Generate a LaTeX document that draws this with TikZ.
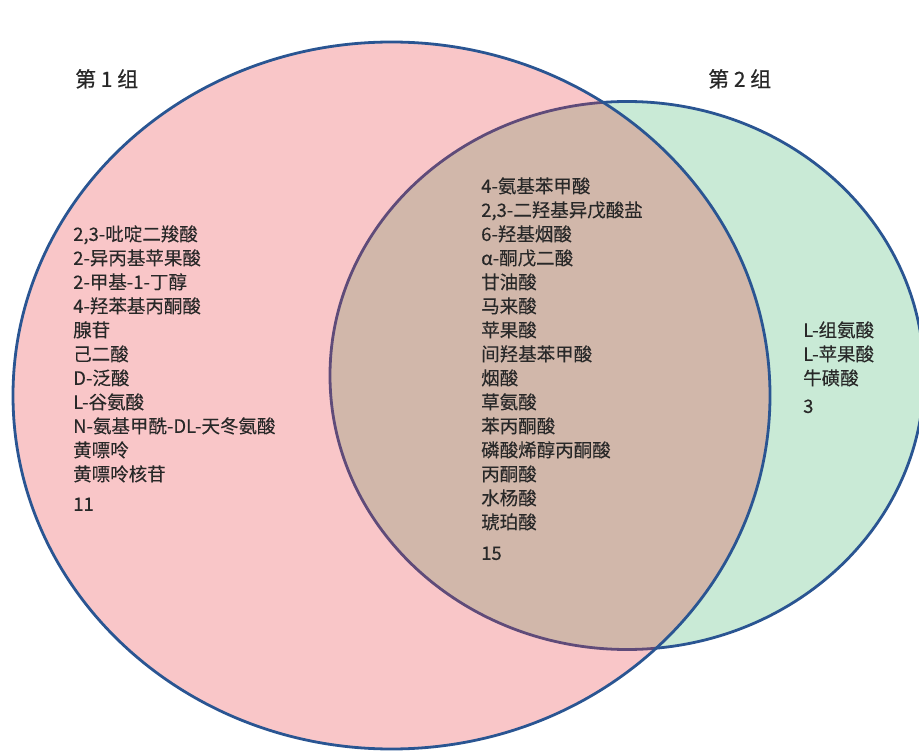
\documentclass[tikz,border=0pt]{standalone}
\usepackage{fontspec}
\setmainfont{Noto Sans CJK SC}
\newfontfamily\itemfont[FakeBold=0.15]{Noto Sans CJK SC}
\newfontfamily\titlefont[FakeBold=0.5]{Noto Sans CJK SC}
\definecolor{grpblue}{RGB}{42,85,146}
\definecolor{grpgreen}{RGB}{201,234,214}
\definecolor{grppink}{RGB}{233,51,58}
\definecolor{txt}{RGB}{40,40,40}
\tikzset{
  setA/.style={draw=grpblue,line width=2.8pt,fill=grppink,fill opacity=0.28},
  setB/.style={draw=grpblue,line width=2.8pt,fill=grpgreen},
  item/.style={anchor=west,inner sep=0pt,text=txt,font=\itemfont\fontsize{18.5}{20}\selectfont,text height=0.78em,text depth=0.2em},
  title/.style={anchor=west,inner sep=0pt,text=txt,font=\titlefont\fontsize{21}{24}\selectfont,text height=0.78em,text depth=0.2em},
}
\begin{document}
\begin{tikzpicture}[x=1pt,y=-1pt]
\useasboundingbox (0,0) rectangle (919,751);
% group 2 (green)
\draw[setB] (627,375.5) ellipse [x radius=297, y radius=274];
% group 1 (pink, translucent)
\draw[setA] (391.5,395.5) ellipse [x radius=378.5, y radius=353.5];
% titles
\node[title] (t1) at (75,84) {第 1 组};
\node[title] (t2) at (708,84) {第 2 组};
% group 1 only
\foreach \s [count=\i] in {{2,3-吡啶二羧酸},2-异丙基苹果酸,2-甲基-1-丁醇,4-羟苯基丙酮酸,腺苷,己二酸,D-泛酸,L-谷氨酸,N-氨基甲酰-DL-天冬氨酸,黄嘌呤,黄嘌呤核苷}
  \node[item] (a\i) at (73,{238+24*(\i-1)}) {\s};
\node[item] (na) at (73,508) {11};
% intersection
\foreach \s [count=\i] in {4-氨基苯甲酸,{2,3-二羟基异戊酸盐},6-羟基烟酸,α-酮戊二酸,甘油酸,马来酸,苹果酸,间羟基苯甲酸,烟酸,草氨酸,苯丙酮酸,磷酸烯醇丙酮酸,丙酮酸,水杨酸,琥珀酸}
  \node[item] (m\i) at (481,{190+24*(\i-1)}) {\s};
\node[item] (nm) at (481,557) {15};
% group 2 only
\foreach \s [count=\i] in {L-组氨酸,L-苹果酸,牛磺酸}
  \node[item] (b\i) at (803,{334+24*(\i-1)}) {\s};
\node[item] (nb) at (803,410) {3};
\end{tikzpicture}
\end{document}
